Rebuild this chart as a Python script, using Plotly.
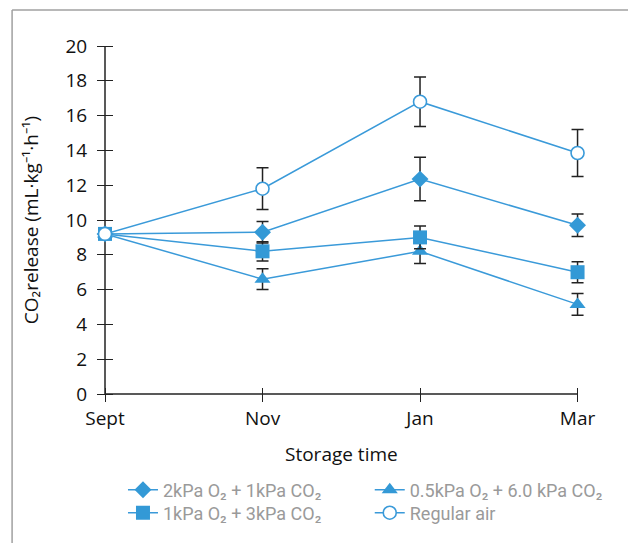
import plotly.graph_objects as go

months = ["Sept", "Nov", "Jan", "Mar"]
xpos = [0, 1, 2, 3]

names = ["2kPa O₂ + 1kPa CO₂", "0.5kPa O₂ + 6.0 kPa CO₂", "1kPa O₂ + 3kPa CO₂", "Regular air"]
diamond_vals = [9.2, 9.3, 12.35, 9.7]
diamond_err = [0.0, 0.62, 1.25, 0.65]
triangle_vals = [9.2, 6.6, 8.2, 5.15]
triangle_err = [0.0, 0.6, 0.7, 0.63]
square_vals = [9.2, 8.2, 9.0, 7.0]
square_err = [0.0, 0.55, 0.65, 0.6]
air_vals = [9.2, 11.8, 16.8, 13.85]
air_err = [0.0, 1.2, 1.42, 1.35]

blue = "#3a9ad9"
fill = "#3399d6"

series = [
    (names[0], diamond_vals, diamond_err, dict(symbol="diamond", size=13, color=fill), "legend"),
    (names[1], triangle_vals, triangle_err, dict(symbol="triangle-up", size=14, color=fill), "legend2"),
    (names[2], square_vals, square_err, dict(symbol="square", size=14, color=fill), "legend3"),
    (names[3], air_vals, air_err, dict(symbol="circle", size=13, color="white", line=dict(color=blue, width=1.6)), "legend4"),
]

fig = go.Figure()
for name, vals, err, marker, lg in series:
    fig.add_trace(go.Scatter(
        x=xpos, y=vals, name=name, mode="lines+markers",
        line=dict(color=blue, width=1.5), marker=marker,
        error_y=dict(type="data", array=err, visible=True, color="#222", thickness=1.5, width=6),
        cliponaxis=False, legend=lg,
    ))

W, H = 628, 543
XMAX = 3.06  # small headroom so the last error bar is not clipped
L, T, B = 105, 46, 149
pw = (578 - L) * XMAX / xpos[-1]
R = W - L - pw
ph = H - T - B
TX, TY = 7, 8  # half tick lengths (x axis ticks, y axis ticks)

def px_x(p):
    return (p - L) / pw

def px_y(p):
    return (H - B - p) / ph

axfont = dict(family="Open Sans", size=19, color="#111")
legfont = dict(family="Roboto", size=18, color="#9a9a9a")
axcol = "#222"

fig.update_layout(
    width=W, height=H, margin=dict(l=L, r=R, t=T, b=B),
    paper_bgcolor="white", plot_bgcolor="white",
    # axes shifted by half a tick so that outside ticks cross the axis lines
    xaxis=dict(range=[0, XMAX], tickvals=xpos, ticktext=months, showgrid=False, zeroline=False,
               anchor="free", position=TX / ph,
               showline=False, ticks="outside", ticklen=2 * TX,
               tickwidth=1.2, tickcolor=axcol, tickfont=axfont),
    yaxis=dict(range=[0, 20], dtick=2, showgrid=False, zeroline=False,
               anchor="free", position=TY / pw,
               showline=False, ticks="outside", ticklen=2 * TY,
               tickwidth=1.2, tickcolor=axcol, tickfont=axfont, ticklabelstandoff=6,
               title=dict(text="CO₂release (mL·kg⁻¹·h⁻¹)", font=dict(family="Open Sans", size=19, color="#111"), standoff=20)),
    annotations=[
        dict(text="Storage time", xref="x", yref="paper", x=(xpos[0] + xpos[-1]) / 2, y=px_y(454),
             xanchor="center", yanchor="middle", showarrow=False, font=axfont),
    ],
    showlegend=True,
    legend=dict(x=px_x(123), y=px_y(490), xanchor="left", yanchor="middle", font=legfont, bgcolor="rgba(0,0,0,0)"),
    legend2=dict(x=px_x(370), y=px_y(490), xanchor="left", yanchor="middle", font=legfont, bgcolor="rgba(0,0,0,0)"),
    legend3=dict(x=px_x(123), y=px_y(513), xanchor="left", yanchor="middle", font=legfont, bgcolor="rgba(0,0,0,0)"),
    legend4=dict(x=px_x(370), y=px_y(513), xanchor="left", yanchor="middle", font=legfont, bgcolor="rgba(0,0,0,0)"),
    shapes=[
        # axis lines
        dict(type="line", xref="x", yref="paper", x0=xpos[0], x1=xpos[-1], y0=0, y1=0,
             line=dict(color=axcol, width=1.5), layer="below"),
        dict(type="line", xref="paper", yref="paper", x0=0, x1=0, y0=0, y1=1,
             line=dict(color=axcol, width=1.5), layer="below"),
        # figure frame
        dict(type="line", xref="paper", yref="paper", x0=px_x(12), x1=px_x(640), y0=px_y(10), y1=px_y(10),
             line=dict(color="#a0a0a0", width=1.5)),
        dict(type="line", xref="paper", yref="paper", x0=px_x(12), x1=px_x(12), y0=px_y(10), y1=px_y(560),
             line=dict(color="#a0a0a0", width=1.5)),
    ],
)

fig.write_html("out.html")
